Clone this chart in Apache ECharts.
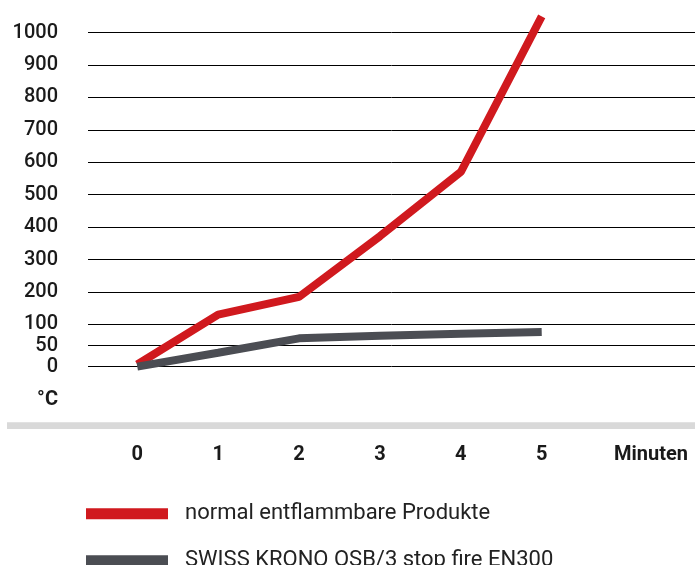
<!DOCTYPE html>
<html>
<head>
<meta charset="utf-8">
<script src="https://cdn.jsdelivr.net/npm/echarts@6/dist/echarts.min.js"></script>
<style>
  html, body { margin: 0; padding: 0; background: #fff; }
  #chart { width: 695px; height: 565px; }
</style>
</head>
<body>
<div id="chart"></div>
<script>
// Minuten / °C
var minutes = [0, 1, 2, 3, 4, 5];
var normalProducts = [5, 130, 185, 372, 570, 1050];
var osbStopFire = [0, 33, 67, 73, 78, 82];
var tempTicks = [0, 50, 100, 200, 300, 400, 500, 600, 700, 800, 900, 1000];
var seriesNames = ["normal entflammbare Produkte", "SWISS KRONO OSB/3 stop fire EN300"];

// the original axis is stretched below 100 °C (0-100 takes ~1.3x the room of 100-200)
function stretch(v) {
  return v <= 100 ? v * 1.3 : v + 30;
}

var chart = echarts.init(document.getElementById("chart"));
var tickPos = tempTicks.map(stretch);
var unitPos = -103; // where "°C" sits below the 0 line

var option = {
  animation: false,
  textStyle: { fontFamily: "Roboto" },
  grid: { left: 88, right: 0, top: 9.8, bottom: 140 },
  xAxis: {
    type: "value",
    min: -0.609,
    max: 6.895,
    axisLine: { show: false },
    axisTick: { show: false },
    splitLine: { show: false },
    axisLabel: {
      customValues: minutes.concat([6.35]),
      margin: 20,
      fontSize: 20,
      fontWeight: "bold",
      color: "#1a1a1a",
      formatter: function (value) {
        return value > 5.5 ? "Minuten" : String(value);
      },
    },
  },
  yAxis: {
    type: "value",
    min: -180,
    max: 1100,
    axisLine: { show: false },
    axisTick: { show: false, customValues: tickPos },
    splitLine: { show: true, lineStyle: { color: "#000", width: 1 } },
    axisLabel: {
      customValues: tickPos.concat([unitPos]),
      margin: 30,
      fontSize: 20,
      fontWeight: 500,
      color: "#1a1a1a",
      formatter: function (value) {
        if (Math.abs(value - unitPos) < 0.01) return "{u|°C}";
        for (var i = 0; i < tickPos.length; i++) {
          if (Math.abs(tickPos[i] - value) < 0.01) return String(tempTicks[i]);
        }
        return "";
      },
      rich: {
        u: { fontSize: 20, fontWeight: "bold", color: "#1a1a1a", fontFamily: "Roboto" },
      },
    },
  },
  legend: {
    orient: "vertical",
    left: 86,
    top: 502.8,
    height: 90,
    padding: 0,
    icon: "rect",
    itemWidth: 82,
    itemHeight: 11,
    itemGap: 25,
    textStyle: {
      fontSize: 22,
      color: "#222",
      padding: [0, 0, 0, 12],
    },
    data: seriesNames,
  },
  graphic: [
    {
      type: "rect",
      shape: { x: 7, y: 422.3, width: 688, height: 6.7 },
      style: { fill: "#d9d9d9" },
    },
  ],
  series: [
    {
      name: seriesNames[0],
      type: "line",
      symbol: "none",
      color: "#d0191e",
      lineStyle: { width: 8, color: "#d0191e" },
      data: minutes.map(function (m, i) { return [m, stretch(normalProducts[i])]; }),
    },
    {
      name: seriesNames[1],
      type: "line",
      symbol: "none",
      color: "#4b4d53",
      lineStyle: { width: 8, color: "#4b4d53" },
      data: minutes.map(function (m, i) { return [m, stretch(osbStopFire[i])]; }),
    },
  ],
};
chart.setOption(option);
</script>
</body>
</html>
